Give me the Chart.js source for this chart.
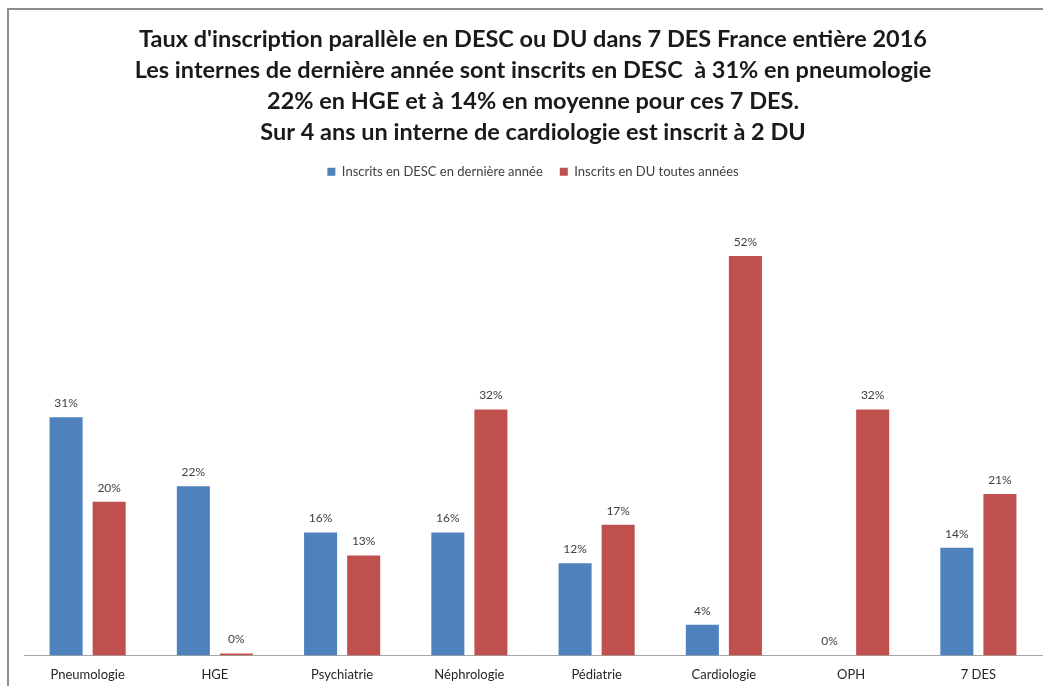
<!DOCTYPE html>
<html><head><meta charset="utf-8">
<script src="https://cdn.jsdelivr.net/npm/chart.js@4.4.1/dist/chart.umd.min.js"></script>
<style>html,body{margin:0;padding:0;background:#fff;}#wrap{width:1043px;height:686px;position:relative;}</style>
</head><body><div id="wrap"><canvas id="c" width="1043" height="686"></canvas></div>
<script>
const categories = ['Pneumologie','HGE','Psychiatrie','Néphrologie','Pédiatrie','Cardiologie','OPH','7 DES'];
const descValues = [31,22,16,16,12,4,0,14];
const duValues = [20,0,13,32,17,52,32,21];
const seriesNames = ['Inscrits en DESC en dernière année','Inscrits en DU toutes années'];
const titleLines = ["Taux d'inscription parallèle en DESC ou DU dans 7 DES France entière 2016",
  "Les internes de dernière année sont inscrits en DESC  à 31% en pneumologie",
  "22% en HGE et à 14% en moyenne pour ces 7 DES.",
  "Sur 4 ans un interne de cardiologie est inscrit à 2 DU"];

const FONT = 'Lato, "Open Sans", sans-serif';

const borderPlugin = {
  id: 'frame',
  beforeDraw(chart){
    const ctx = chart.ctx;
    ctx.save();
    ctx.fillStyle = '#fff';
    ctx.fillRect(0,0,chart.width,chart.height);
    ctx.strokeStyle = '#8c8c8c';
    ctx.lineWidth = 2;
    ctx.beginPath();
    ctx.moveTo(8, chart.height);
    ctx.lineTo(8, 9);
    ctx.lineTo(chart.width, 9);
    ctx.stroke();
    ctx.restore();
  }
};

const labelPlugin = {
  id: 'valueLabels',
  afterDatasetsDraw(chart){
    const ctx = chart.ctx;
    ctx.save();
    ctx.font = '12px ' + FONT;
    ctx.fillStyle = '#404040';
    ctx.textAlign = 'center';
    ctx.textBaseline = 'bottom';
    chart.data.datasets.forEach((ds, i) => {
      chart.getDatasetMeta(i).data.forEach((bar, j) => {
        ctx.fillText(ds.data[j] + '%', bar.x, bar.y - 8);
      });
    });
    ctx.restore();
  }
};

new Chart(document.getElementById('c'), {
  type: 'bar',
  data: {
    labels: categories,
    datasets: [
      {label: seriesNames[0], data: descValues, backgroundColor: '#4F81BD', categoryPercentage: 0.677, barPercentage: 0.767},
      {label: seriesNames[1], data: duValues, backgroundColor: '#C0504D', categoryPercentage: 0.677, barPercentage: 0.767, minBarLength: 2}
    ]
  },
  options: {
    responsive: false,
    animation: false,
    devicePixelRatio: 1,
    layout: {padding: {left: 24, right: 1, top: 14, bottom: -9}},
    plugins: {
      title: {display: true, text: titleLines, color: '#1a1a1a',
        font: {family: FONT, size: 23.5, weight: 'bold', lineHeight: 1.322}, padding: {top: 10, bottom: 0}},
      legend: {display: true, position: 'top',
        labels: {boxWidth: 8, boxHeight: 8, color: '#404040', font: {family: FONT, size: 13}, padding: 17}},
      tooltip: {enabled: false}
    },
    scales: {
      x: {grid: {display: false, drawTicks: false}, border: {display: true, color: '#a6a6a6', width: 1},
        ticks: {color: '#262626', font: {family: FONT, size: 13}, padding: 12}},
      y: {display: false, min: 0, max: 60.8}
    }
  },
  plugins: [borderPlugin, labelPlugin]
});
</script></body></html>
